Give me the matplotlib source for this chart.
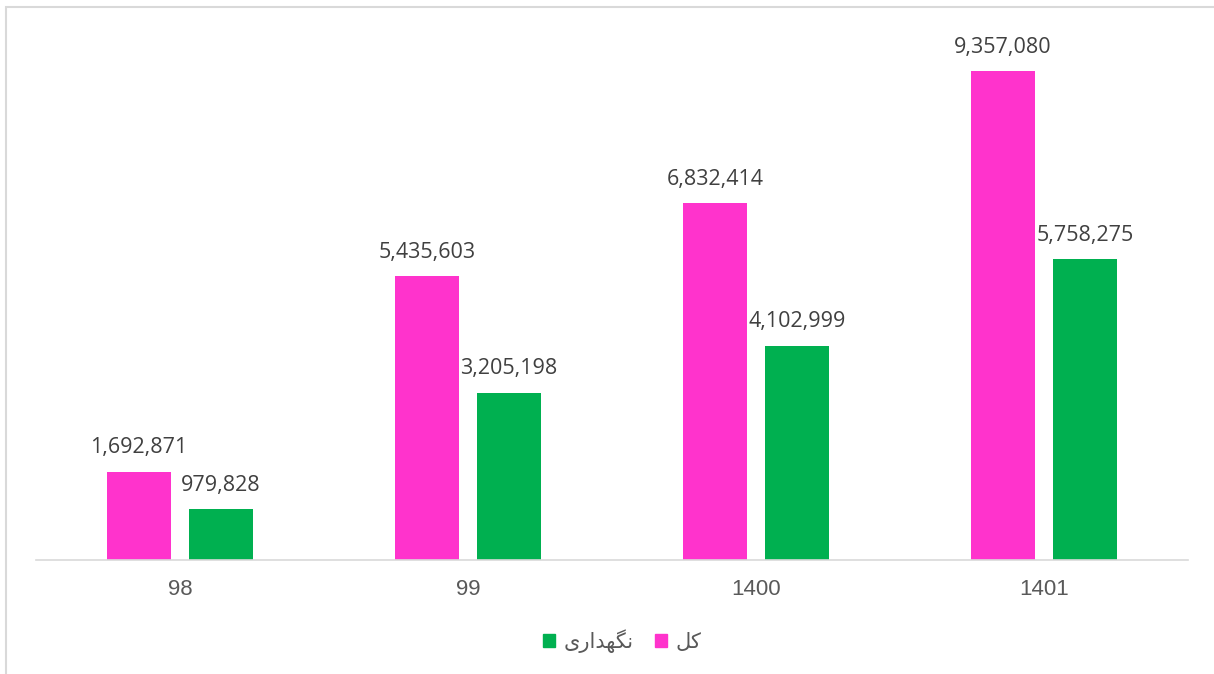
import matplotlib
matplotlib.use("Agg")
import matplotlib.pyplot as plt
from matplotlib.patches import Rectangle, Patch
import numpy as np

categories = ["98", "99", "1400", "1401"]
total_values = [1692871, 5435603, 6832414, 9357080]
maint_values = [979828, 3205198, 4102999, 5758275]
# Persian labels in visual (presentation-form) order: "کل" and "نگهداری"
label_total = "\uFEDE\uFB90"
label_maint = "\uFBFC\uFEAD\uFE8D\uFEAA\uFEEC\uFB95\uFEE7"

pink = "#FF33CC"
green = "#00B050"
text_col = "#404040"

plt.rcParams['font.family'] = ['Open Sans', 'DejaVu Sans']

fig = plt.figure(figsize=(12.14, 6.74), dpi=100)
ax = fig.add_axes([36/1214, 1-560/674, 1152/1214, (560-37.5)/674])

x = np.arange(len(categories))
w = 0.222
off = 0.142
b1 = ax.bar(x - off, total_values, w, color=pink)
b2 = ax.bar(x + off, maint_values, w, color=green)

for bars, vals in ((b1, total_values), (b2, maint_values)):
    for r, v in zip(bars, vals):
        ax.annotate(f"{v:,}", (r.get_x() + r.get_width()/2, r.get_height()),
                    xytext=(0, 9.5), textcoords="offset points",
                    ha="center", va="bottom", fontsize=15.5, color=text_col)

ax.set_xlim(-0.5, len(categories) - 0.5)
ax.set_ylim(0, 10000000)
ax.set_xticks(x)
ax.set_xticklabels(categories, fontsize=16, color="#595959",
                   family=['Liberation Sans', 'DejaVu Sans'])
ax.tick_params(axis='x', length=0, pad=14)
ax.set_yticks([])
for s in ("top", "right", "left"):
    ax.spines[s].set_visible(False)
ax.spines["bottom"].set_color("#D9D9D9")
ax.spines["bottom"].set_linewidth(1.2)

handles = [Patch(color=green), Patch(color=pink)]
fig.legend(handles, [label_maint, label_total], loc="center",
           bbox_to_anchor=(622/1214, 1-641/674), ncol=2, frameon=False,
           prop={'family': ['DejaVu Sans'], 'size': 15},
           handlelength=0.6, handleheight=0.6, handletextpad=0.4,
           columnspacing=1.0, labelcolor="#595959")

fig.patches.append(Rectangle((6/1214, -0.1), 1.2, 1-7/674 + 0.1,
                             transform=fig.transFigure, fill=False,
                             edgecolor="#D9D9D9", linewidth=1.5))

fig.savefig("out.png", dpi=100)
